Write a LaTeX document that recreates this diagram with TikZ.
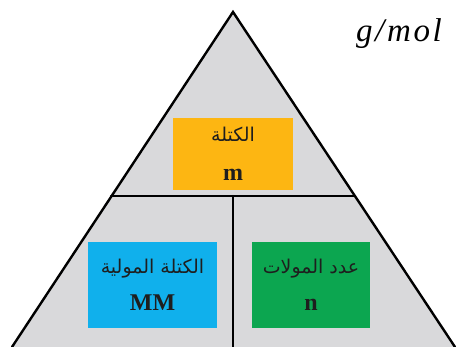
\documentclass[tikz,border=0pt]{standalone}
\usepackage{fontspec}
\setmainfont{Liberation Serif}
\newfontfamily\arabicfont[Script=Arabic]{DejaVu Sans}
\TeXXeTstate=1
\definecolor{trigray}{RGB}{217,217,219}
\definecolor{boxorange}{RGB}{253,182,18}
\definecolor{boxblue}{RGB}{16,176,236}
\definecolor{boxgreen}{RGB}{12,166,80}
\definecolor{ink}{RGB}{30,30,30}
\tikzset{
  edge/.style={line width=2.4pt, black, line cap=round, line join=miter},
  qbox/.style={inner sep=0pt, align=center, text=ink, font=\fontsize{24}{36}\selectfont\bfseries}
}
\newcommand{\ar}[1]{{\arabicfont\fontsize{19}{22}\selectfont\mdseries\beginR #1\endR}}
\begin{document}
\begin{tikzpicture}[x=1pt,y=-1pt]
\useasboundingbox (0,0) rectangle (457,347);
\coordinate (A) at (233,12);
\coordinate (L) at (12,347);
\coordinate (R) at (455,347);
\coordinate (ML) at (111,196);
\coordinate (MR) at (355,196);
\coordinate (MT) at (233,196);
\coordinate (MB) at (233,347);
\fill[trigray] (A) -- (L) -- (R) -- cycle;
\node[qbox, fill=boxorange, minimum width=120pt, minimum height=72pt] (mass) at (233,154) {\ar{الكتلة}\\[3pt]m};
\node[qbox, fill=boxblue, minimum width=129pt, minimum height=86pt] (molar) at (152.5,285) {\ar{الكتلة المولية}\\[1pt]MM};
\node[qbox, fill=boxgreen, minimum width=118pt, minimum height=86pt] (moles) at (311,285) {\ar{عدد المولات}\\[1pt]n};
\draw[edge] (L) -- (A) -- (R);
\draw[edge] (ML) -- (MR);
\draw[edge] (MT) -- (MB);
\node[font=\fontsize{33}{36}\selectfont\itshape\addfontfeature{LetterSpace=8}] (unit) at (399,34) {g/mol};
\end{tikzpicture}
\end{document}
